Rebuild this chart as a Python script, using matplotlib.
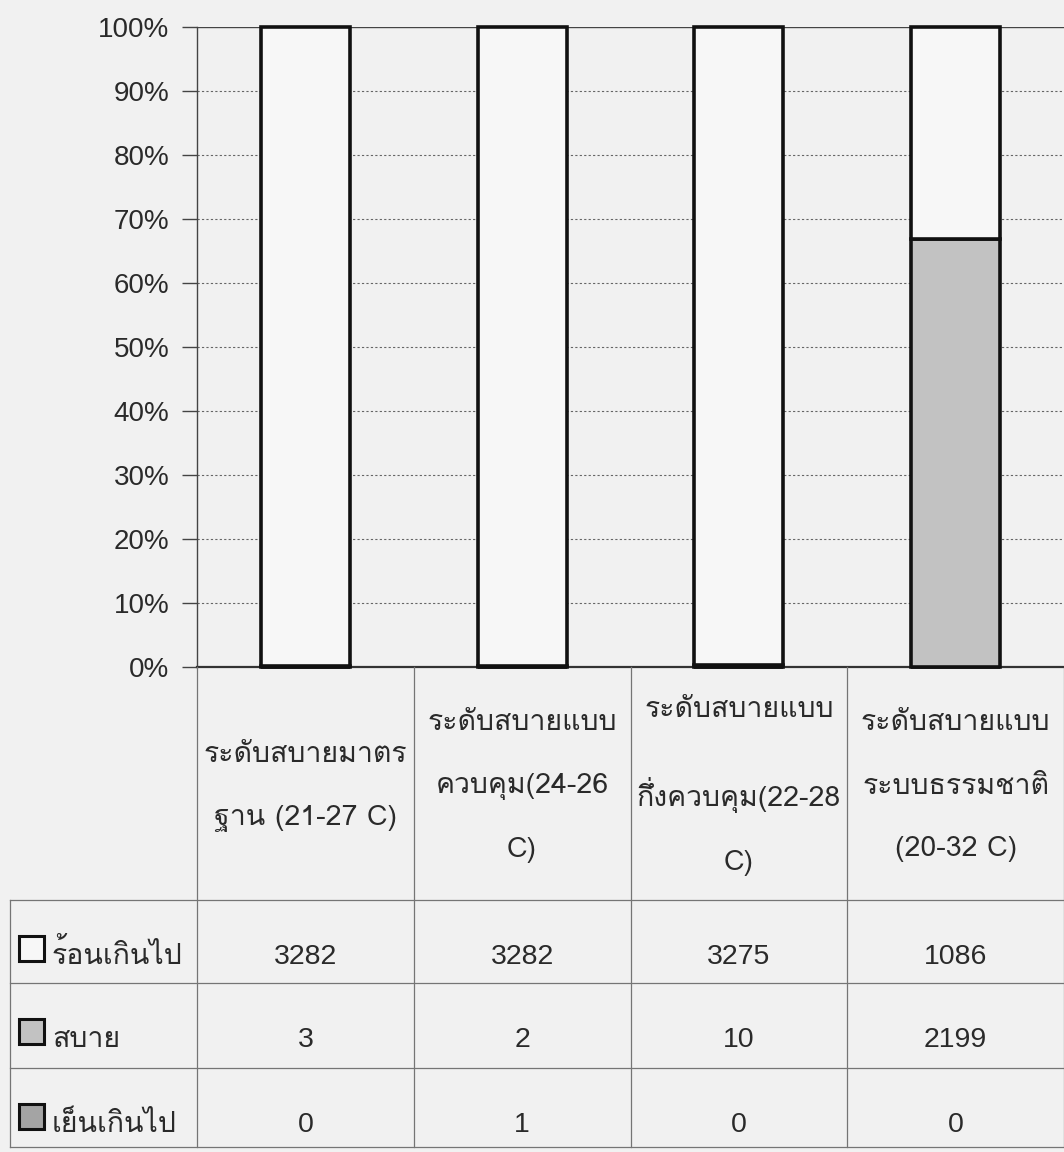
import matplotlib
matplotlib.use("Agg")
import matplotlib.pyplot as plt
import numpy as np
from matplotlib import font_manager, ft2font
from matplotlib.transforms import blended_transform_factory
from matplotlib.patches import Rectangle
from matplotlib.lines import Line2D

# ---- data ----
categories = [
    "ระดับสบายมาตร\nฐาน (21-27 C)",
    "ระดับสบายแบบ\nควบคุม(24-26\nC)",
    "ระดับสบายแบบ\nกึ่งควบคุม(22-28\nC)",
    "ระดับสบายแบบ\nระบบธรรมชาติ\n(20-32 C)",
]
series_names = ["ร้อนเกินไป", "สบาย", "เย็นเกินไป"]
hot = [3282, 3282, 3275, 1086]
comfy = [3, 2, 10, 2199]
cold = [0, 1, 0, 0]
ytick_labels = ["0%", "10%", "20%", "30%", "40%", "50%", "60%", "70%", "80%", "90%", "100%"]

# ---- fonts: a Thai-capable family for the labels ----
def thai_family():
    preferred = ["Loma", "IBM Plex Sans Thai Looped", "Noto Sans Thai Looped"]
    found = []
    for f in font_manager.fontManager.ttflist:
        try:
            if 0x0E23 in ft2font.FT2Font(f.fname).get_charmap():
                found.append(f.name)
        except Exception:
            pass
    for p in preferred:
        if p in found:
            return p
    return found[0] if found else "DejaVu Sans"

thai = thai_family()
plt.rcParams["font.family"] = [thai, "DejaVu Sans"]
latin = ["Liberation Sans", "DejaVu Sans"]

W, H = 1064, 1152
bg = "#f1f1f1"
txt = "#2a2a2a"
fills = {"hot": "#f7f7f7", "comfy": "#c2c2c2", "cold": "#a4a4a4"}

fig = plt.figure(figsize=(W / 100, H / 100), dpi=100, facecolor=bg)

def fy(py):
    return 1 - py / H

ax_left, ax_top, ax_bot = 197, 27, 667
ax = fig.add_axes([ax_left / W, fy(ax_bot), 1 - ax_left / W, fy(ax_top) - fy(ax_bot)])
ax.set_facecolor(bg)

x = np.arange(len(categories))
hot_a, comfy_a, cold_a = map(np.array, (hot, comfy, cold))
total = hot_a + comfy_a + cold_a
hot_p, comfy_p, cold_p = (hot_a / total * 100, comfy_a / total * 100, cold_a / total * 100)

# 100% stacked columns: cold at the bottom, hot on top
bw = 0.41
kw = dict(width=bw, edgecolor="#111111", linewidth=2.6, clip_on=False, zorder=3)
ax.bar(x, cold_p, color=fills["cold"], **kw)
ax.bar(x, comfy_p, bottom=cold_p, color=fills["comfy"], **kw)
ax.bar(x, hot_p, bottom=cold_p + comfy_p, color=fills["hot"], **kw)

ax.set_xlim(-0.5, len(categories) - 0.5)
ax.set_ylim(0, 100)
ax.set_yticks(np.arange(0, 101, 10))
ax.set_yticklabels(ytick_labels, fontsize=20, color=txt, family=latin)
ax.tick_params(axis="y", direction="out", length=11, width=1, color="#444444", pad=9)
ax.set_xticks([])
for yv in range(10, 100, 10):
    ax.axhline(yv, color="#666666", lw=0.8, ls=(0, (2, 2)), zorder=1)
ax.axhline(100, color="#444444", lw=1.0, zorder=1)
for s in ("top", "right"):
    ax.spines[s].set_visible(False)
ax.spines["left"].set_color("#444444")
ax.spines["left"].set_linewidth(1.0)
ax.spines["bottom"].set_color("#333333")
ax.spines["bottom"].set_linewidth(1.6)

# ---- data table under the plot ----
tr = blended_transform_factory(ax.transData, fig.transFigure)
px_per_cat = (W - ax_left) / len(categories)

def dx(px):
    return -0.5 + (px - ax_left) / px_per_cat

head_top, head_bot = 667, 900
row_edges = [900, 983, 1068, 1147]
grid_c = "#757575"
lw_t = 0.9
for i in range(len(categories) + 1):
    fig.add_artist(Line2D([i - 0.5, i - 0.5], [fy(head_top), fy(row_edges[-1])],
                          transform=tr, color=grid_c, lw=lw_t))
fig.add_artist(Line2D([dx(10), dx(10)], [fy(row_edges[0]), fy(row_edges[-1])],
                      transform=tr, color=grid_c, lw=lw_t))
for ry in row_edges:
    fig.add_artist(Line2D([dx(10), len(categories) - 0.5], [fy(ry), fy(ry)],
                          transform=tr, color=grid_c, lw=lw_t))

# column headers
for i, lab in enumerate(categories):
    fig.text(i, fy((head_top + head_bot) / 2 + 3), lab, transform=tr, ha="center", va="center",
             fontsize=20.5, color=txt, linespacing=2.85)

# rows: legend key, series name and counts
values = [hot, comfy, cold]
keys = ["hot", "comfy", "cold"]
sq = 25
for r, (name, vals, k) in enumerate(zip(series_names, values, keys)):
    top = row_edges[r]
    base = fy(top + 64)
    kc = top + 48
    fig.add_artist(Rectangle((dx(19), fy(kc + sq / 2)), sq / px_per_cat, sq / H,
                             transform=tr, facecolor=fills[k], edgecolor="#111111", lw=2.2))
    fig.text(dx(52), base, name, transform=tr, ha="left", va="baseline",
             fontsize=20.5, color=txt)
    for i, v in enumerate(vals):
        fig.text(i, base, str(v), transform=tr, ha="center", va="baseline",
                 fontsize=20.5, color=txt, family=latin)

fig.savefig("out.png", dpi=100, facecolor=bg)
